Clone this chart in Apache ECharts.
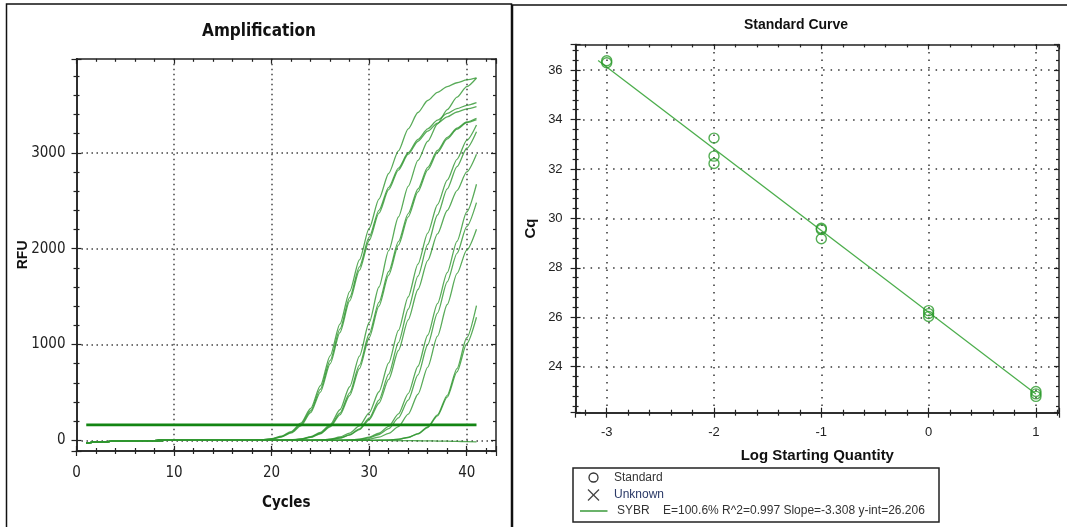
<!DOCTYPE html>
<html>
<head>
<meta charset="utf-8">
<title>Amplification / Standard Curve</title>
<script src="https://cdn.jsdelivr.net/npm/echarts@6/dist/echarts.min.js"></script>
<style>
html, body { margin: 0; padding: 0; background: #fff; }
#chart { width: 1067px; height: 527px; }
</style>
</head>
<body>
<div id="chart"></div>
<script>
// amplification data: RFU per cycle, one array per well
var cycles = [1,2,3,4,5,6,7,8,9,10,11,12,13,14,15,16,17,18,19,20,21,22,23,24,25,26,27,28,29,30,31,32,33,34,35,36,37,38,39,40,41];

var wellA = [-25,-18,-12,-8,-5,-3,-2,-1, 0,0,0,0,0,0,0,0,0,
    2,7,18,44,93,180,333,571,883,1214,1553,1883,2211,2517,2784,3020,3250,3420,3545,3630,3690,3730,3760,3780];
var wellB = [-25,-18,-12,-8,-5,-3,-2,-1, 0,0,0,0,0,0,0,0,0,
    2,6,16,40,85,165,310,535,835,1160,1490,1810,2120,2400,2640,2840,3000,3140,3250,3340,3410,3460,3495,3522];
var wellC = [-25,-18,-12,-8,-5,-3,-2,-1, 0,0,0,0,0,0,0,0,0,
    1,5,14,36,78,152,290,505,800,1125,1455,1775,2085,2370,2615,2820,2985,3120,3225,3310,3375,3425,3458,3481];
var wellD = [-25,-18,-12,-8,-5,-3,-2,-1, 0,0,0,0,0,0,0,0,0,0,0,0,
    2,6,16,40,85,165,320,560,880,1230,1600,1980,2330,2650,2920,3120,3300,3450,3580,3690,3780];
var wellE = [-25,-18,-12,-8,-5,-3,-2,-1, 0,0,0,0,0,0,0,0,0,0,0,0,
    2,5,14,35,75,152,284,496,785,1110,1440,1762,2074,2366,2622,2847,3024,3160,3256,3321,3360];
var wellF = [-25,-18,-12,-8,-5,-3,-2,-1, 0,0,0,0,0,0,0,0,0,0,0,0,
    1,5,13,32,70,143,267,469,749,1071,1401,1724,2036,2332,2592,2821,3004,3145,3246,3314,3345];
var wellG = [-25,-18,-12,-8,-5,-3,-2,-1, 0,0,0,0,0,0,0,0,0,0,0,0,0,0,0,
    2,5,14,36,77,151,288,508,808,1148,1497,1839,2162,2458,2715,2932,3130,3290];
var wellH = [-25,-18,-12,-8,-5,-3,-2,-1, 0,0,0,0,0,0,0,0,0,0,0,0,0,0,0,
    1,4,11,27,60,121,232,421,692,1020,1368,1713,2044,2351,2623,2855,3047,3220];
var wellI = [-25,-18,-12,-8,-5,-3,-2,-1, 0,0,0,0,0,0,0,0,0,0,0,0,0,0,0,
    1,4,10,24,56,113,216,388,636,938,1258,1574,1876,2154,2398,2606,2800,2984];
var wellJ = [-25,-18,-12,-8,-5,-3,-2,-1, 0,0,0,0,0,0,0,0,0,0,0,0,0,0,0,0,0,0,
    2,5,14,35,75,147,278,489,774,1097,1427,1750,2077,2384,2672];
var wellK = [-25,-18,-12,-8,-5,-3,-2,-1, 0,0,0,0,0,0,0,0,0,0,0,0,0,0,0,0,0,0,
    1,4,11,27,62,123,235,420,684,998,1328,1654,1950,2230,2480];
var wellL = [-25,-18,-12,-8,-5,-3,-2,-1, 0,0,0,0,0,0,0,0,0,0,0,0,0,0,0,0,0,0,
    0,2,5,13,34,74,145,274,482,765,1087,1418,1740,1985,2202];
var wellM = [-25,-18,-12,-8,-5,-3,-2,-1, 0,0,0,0,0,0,0,0,0,0,0,0,0,0,0,0,0,0,0,0,0,0,
    2,5,13,33,71,141,267,471,750,1071,1407];
var wellN = [-25,-18,-12,-8,-5,-3,-2,-1, 0,0,0,0,0,0,0,0,0,0,0,0,0,0,0,0,0,0,0,0,0,0,
    2,4,12,31,68,135,256,452,715,1010,1285];
var wellNTC = [-25,-18,-12,-8,-5,-3,-2,-1, 0,0,0,0,0,0,0,0,0,0,0,0,0,0,0,0,0,0,0,0,0,0,0,0,
    -1,-2,-3,-4,-6,-8,-10,-12,-14];

var thresholdRFU = 162;
var thresholdCycles = [1, 41];

// standard curve data
var stdLogQty = [-3, -3, -2, -2, -2, -1, -1, -1, 0, 0, 0, 1, 1, 1];
var stdCq = [36.38, 36.30, 33.25, 32.52, 32.22, 29.60, 29.55, 29.18, 26.27, 26.15, 26.03, 23.00, 22.90, 22.80];
var fitLogQty = [-3.08, 1.0];
var fitCq = [36.39, 22.90];
var fitText = 'SYBR    E=100.6% R^2=0.997 Slope=-3.308 y-int=26.206';

var NARROW = "'Liberation Sans Narrow', 'DejaVu Sans Condensed', 'Liberation Sans', sans-serif";
var ARIAL = "'Liberation Sans', Arial, sans-serif";

function zip(xs, ys) {
    var out = [];
    for (var i = 0; i < xs.length; i++) out.push([xs[i], ys[i]]);
    return out;
}

// plain numbers, no thousands separator
function plain(v) {
    return String(v);
}

// one axis of the frame; ticks inside by default, no labels
function frameAxis(grid, pos, min, max, step, opts) {
    var a = {
        type: 'value', gridIndex: grid, position: pos,
        min: min, max: max, minInterval: step, maxInterval: step,
        axisLine: {onZero: false, lineStyle: {color: '#222', width: 1.5}},
        axisTick: {show: true, inside: true, length: 5, lineStyle: {color: '#222', width: 1.2}},
        minorTick: {show: true, splitNumber: 5, length: 3, lineStyle: {color: '#222', width: 1.2}},
        axisLabel: {show: false},
        splitLine: {show: false}
    };
    for (var k in opts) a[k] = opts[k];
    return a;
}

var outTick = {show: true, inside: false, length: 5, lineStyle: {color: '#222', width: 1.2}};
var outMinor = {show: true, splitNumber: 5, length: 3, lineStyle: {color: '#222', width: 1.2}};
var dotted1 = {show: true, showMinLine: false, showMaxLine: false,
    lineStyle: {color: '#444', width: 1.5, type: [1.5, 3.5]}};
var dotted2 = {show: true, showMinLine: false, showMaxLine: false,
    lineStyle: {color: '#333', width: 1.5, type: [1.5, 6]}};

var wells = [wellA, wellB, wellC, wellD, wellE, wellF, wellG, wellH, wellI, wellJ, wellK, wellL, wellM, wellN, wellNTC];
var series = [];
wells.forEach(function (w, i) {
    series.push({
        name: 'well' + i, type: 'line', xAxisIndex: 0, yAxisIndex: 0,
        data: zip(cycles, w), symbol: 'none', smooth: 0.25, smoothMonotone: 'x',
        lineStyle: {color: '#2f962f', width: 1.3, opacity: 0.8}, z: 3
    });
});
series.push({
    name: 'threshold', type: 'line', xAxisIndex: 0, yAxisIndex: 0,
    data: zip(thresholdCycles, [thresholdRFU, thresholdRFU]), symbol: 'none',
    lineStyle: {color: '#138513', width: 2.6}, z: 4
});
series.push({
    name: 'fit', type: 'line', xAxisIndex: 3, yAxisIndex: 3,
    data: zip(fitLogQty, fitCq), symbol: 'none',
    lineStyle: {color: '#4cae4c', width: 1.3}, z: 3
});
series.push({
    name: 'Standard', type: 'scatter', xAxisIndex: 3, yAxisIndex: 3,
    data: zip(stdLogQty, stdCq), symbol: 'circle', symbolSize: 10,
    itemStyle: {color: 'rgba(0,0,0,0)', borderColor: '#2a9a2a', borderWidth: 1.4}, z: 4
});

var myChart = echarts.init(document.getElementById('chart'), null, {renderer: 'canvas'});

var option = {
    animation: false,
    backgroundColor: '#fff',
    grid: [
        {left: 76.5, top: 58.8, width: 419.5, height: 392.2},
        {left: 575.6, top: 44.4, width: 483.4, height: 368.3}
    ],
    xAxis: [
        frameAxis(0, 'bottom', 0, 43, 10, {
            axisTick: outTick, minorTick: outMinor,
            axisLabel: {show: true, margin: 15, fontSize: 15, fontFamily: NARROW, color: '#222', showMaxLabel: false, formatter: plain},
            splitLine: dotted1,
            name: 'Cycles', nameLocation: 'middle', nameGap: 45, nameMoveOverlap: false,
            nameTextStyle: {fontSize: 15, fontWeight: 'bold', fontFamily: NARROW, color: '#111'}
        }),
        frameAxis(0, 'bottom', 0, 43, 10, {}),
        frameAxis(0, 'top', 0, 43, 10, {}),
        frameAxis(1, 'bottom', -3.29, 1.215, 1, {
            axisTick: outTick, minorTick: outMinor,
            axisLabel: {show: true, margin: 13, fontSize: 13, fontFamily: ARIAL, color: '#222', showMinLabel: false, showMaxLabel: false, formatter: plain},
            splitLine: dotted2,
            name: 'Log Starting Quantity', nameLocation: 'middle', nameGap: 36, nameMoveOverlap: false,
            nameTextStyle: {fontSize: 15, fontWeight: 'bold', fontFamily: ARIAL, color: '#111'}
        }),
        frameAxis(1, 'bottom', -3.29, 1.215, 1, {}),
        frameAxis(1, 'top', -3.29, 1.215, 1, {})
    ],
    yAxis: [
        frameAxis(0, 'left', -110, 3980, 1000, {
            axisTick: outTick, minorTick: outMinor,
            axisLabel: {show: true, margin: 11, fontSize: 15, fontFamily: NARROW, color: '#222', showMinLabel: false, showMaxLabel: false, formatter: plain},
            splitLine: dotted1,
            name: 'RFU', nameLocation: 'middle', nameGap: 46, nameRotate: 90, nameMoveOverlap: false,
            nameTextStyle: {fontSize: 14, fontWeight: 'bold', fontFamily: ARIAL, color: '#111'}
        }),
        frameAxis(0, 'left', -110, 3980, 1000, {}),
        frameAxis(0, 'right', -110, 3980, 1000, {}),
        frameAxis(1, 'left', 22.14, 37.04, 2, {
            axisTick: outTick, minorTick: outMinor,
            axisLabel: {show: true, margin: 13, fontSize: 13, fontFamily: ARIAL, color: '#222', showMinLabel: false, showMaxLabel: false, formatter: plain},
            splitLine: dotted2,
            name: 'Cq', nameLocation: 'middle', nameGap: 37, nameRotate: 90, nameMoveOverlap: false,
            nameTextStyle: {fontSize: 15, fontWeight: 'bold', fontFamily: ARIAL, color: '#111'}
        }),
        frameAxis(1, 'left', 22.14, 37.04, 2, {}),
        frameAxis(1, 'right', 22.14, 37.04, 2, {})
    ],
    graphic: [
        // panel frames
        {type: 'rect', shape: {x: 6.5, y: 4, width: 505, height: 530}, style: {fill: 'none', stroke: '#111', lineWidth: 1.5}},
        {type: 'rect', shape: {x: 512.5, y: 5, width: 560, height: 530}, style: {fill: 'none', stroke: '#111', lineWidth: 1.5}},
        // titles
        {type: 'text', x: 259, y: 32, style: {text: 'Amplification', align: 'center', verticalAlign: 'middle',
            font: 'bold 17px ' + NARROW, fill: '#111'}},
        {type: 'text', x: 796, y: 25, style: {text: 'Standard Curve', align: 'center', verticalAlign: 'middle',
            font: 'bold 14px ' + ARIAL, fill: '#111'}},
        // legend box of the standard curve
        {type: 'rect', shape: {x: 573, y: 468, width: 366, height: 54}, style: {fill: '#fff', stroke: '#222', lineWidth: 1.5}},
        {type: 'circle', shape: {cx: 593.5, cy: 477.5, r: 4.5}, style: {fill: 'none', stroke: '#333', lineWidth: 1.3}},
        {type: 'text', x: 614, y: 477.5, style: {text: 'Standard', verticalAlign: 'middle', font: '12px ' + ARIAL, fill: '#333'}},
        {type: 'line', shape: {x1: 588, y1: 489.5, x2: 599, y2: 500.5}, style: {stroke: '#444', lineWidth: 1.2}},
        {type: 'line', shape: {x1: 599, y1: 489.5, x2: 588, y2: 500.5}, style: {stroke: '#444', lineWidth: 1.2}},
        {type: 'text', x: 614, y: 495, style: {text: 'Unknown', verticalAlign: 'middle', font: '12px ' + ARIAL, fill: '#2b3a67'}},
        {type: 'line', shape: {x1: 580, y1: 511, x2: 607.5, y2: 511}, style: {stroke: '#3a9a3a', lineWidth: 1.5}},
        {type: 'text', x: 617, y: 511, style: {text: fitText, verticalAlign: 'middle', font: '12px ' + ARIAL, fill: '#333'}}
    ],
    series: series
};
myChart.setOption(option);
</script>
</body>
</html>
